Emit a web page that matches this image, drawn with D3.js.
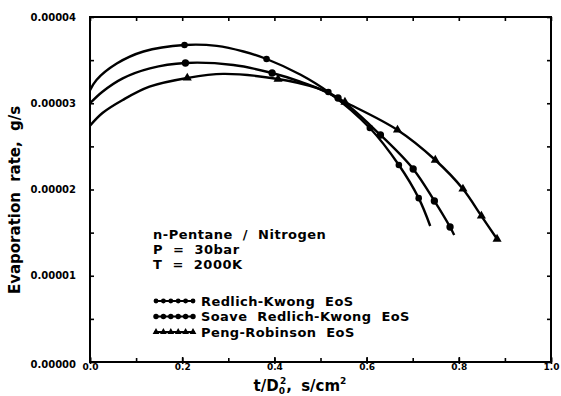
<!DOCTYPE html>
<html><head><meta charset="utf-8">
<script src="https://cdn.jsdelivr.net/npm/d3@7"></script>
<style>body{margin:0;background:#fff}svg{display:block}text{font-family:"DejaVu Sans",sans-serif;font-weight:bold;fill:#000}</style>
</head><body><svg id="c" width="561" height="396"></svg>
<script>
// Curve traces (x = t/D0^2 in s/cm^2, y = evaporation rate in g/s)
const rkX  = [0, 0.014, 0.058, 0.116, 0.205, 0.275, 0.333, 0.383, 0.457, 0.517, 0.607, 0.670, 0.713, 0.738];
const rkY  = [3.15e-5, 3.27e-5, 3.46e-5, 3.60e-5, 3.675e-5, 3.665e-5, 3.60e-5, 3.513e-5, 3.33e-5, 3.13e-5, 2.713e-5, 2.284e-5, 1.90e-5, 1.577e-5];
const rkMarkX = [0.205, 0.383, 0.517, 0.607, 0.670, 0.713];
const rkMarkY = [3.675e-5, 3.513e-5, 3.13e-5, 2.713e-5, 2.284e-5, 1.90e-5];

const srkX = [0, 0.027, 0.071, 0.130, 0.207, 0.311, 0.395, 0.456, 0.538, 0.630, 0.701, 0.747, 0.781, 0.790];
const srkY = [3.0e-5, 3.134e-5, 3.289e-5, 3.405e-5, 3.467e-5, 3.443e-5, 3.351e-5, 3.25e-5, 3.061e-5, 2.632e-5, 2.238e-5, 1.867e-5, 1.565e-5, 1.472e-5];
const srkMarkX = [0.207, 0.395, 0.538, 0.630, 0.701, 0.747, 0.781];
const srkMarkY = [3.467e-5, 3.351e-5, 3.061e-5, 2.632e-5, 2.238e-5, 1.867e-5, 1.565e-5];

const prX  = [0, 0.027, 0.071, 0.129, 0.211, 0.289, 0.408, 0.491, 0.553, 0.667, 0.749, 0.809, 0.849, 0.883];
const prY  = [2.74e-5, 2.887e-5, 3.038e-5, 3.192e-5, 3.293e-5, 3.34e-5, 3.281e-5, 3.177e-5, 3.014e-5, 2.69e-5, 2.342e-5, 2.006e-5, 1.693e-5, 1.426e-5];
const prMarkX = [0.211, 0.408, 0.553, 0.667, 0.749, 0.809, 0.849, 0.883];
const prMarkY = [3.293e-5, 3.281e-5, 3.014e-5, 2.69e-5, 2.342e-5, 2.006e-5, 1.693e-5, 1.426e-5];

const xTicks = [0, 0.2, 0.4, 0.6, 0.8, 1.0];
const xTickLabels = ["0.0", "0.2", "0.4", "0.6", "0.8", "1.0"];
const yTicks = [0, 1e-5, 2e-5, 3e-5, 4e-5];
const yTickLabels = ["0.00000", "0.00001", "0.00002", "0.00003", "0.00004"];
const seriesNames = ["Redlich-Kwong EoS", "Soave Redlich-Kwong EoS", "Peng-Robinson EoS"];
const noteLines = ["n-Pentane / Nitrogen", "P = 30bar", "T = 2000K"];

const svg = d3.select("#c");
const L = 90, R = 551, T = 17, B = 362;
const x = d3.scaleLinear().domain([0, 1]).range([L, R]);
const y = d3.scaleLinear().domain([0, 4e-5]).range([B, T]);

// frame
svg.append("rect").attr("x", L).attr("y", T).attr("width", R - L).attr("height", B - T)
  .attr("fill", "none").attr("stroke", "#000").attr("stroke-width", 2);

// ticks (inward) using axes
const minorX = d3.range(0, 1.0001, 0.1);
const minorY = d3.range(0, 4.0001e-5, 0.5e-5);
function inward(g, axis){ g.call(axis); g.select(".domain").remove(); g.selectAll("line").attr("stroke","#000").attr("stroke-width",1.6); g.selectAll("text").remove(); }
svg.append("g").attr("transform", `translate(0,${B})`).call(g => inward(g, d3.axisTop(x).tickValues(minorX).tickSize(4)));
svg.append("g").attr("transform", `translate(0,${T})`).call(g => inward(g, d3.axisBottom(x).tickValues(minorX).tickSize(4)));
svg.append("g").attr("transform", `translate(${L},0)`).call(g => inward(g, d3.axisRight(y).tickValues(minorY).tickSize(4)));
svg.append("g").attr("transform", `translate(${R},0)`).call(g => inward(g, d3.axisLeft(y).tickValues(minorY).tickSize(4)));
svg.append("g").attr("transform", `translate(0,${B+2})`).call(g => inward(g, d3.axisTop(x).tickValues(xTicks).tickSize(7)));

// tick labels
const xl = svg.append("g").attr("transform", `translate(0,${B})`)
  .call(d3.axisBottom(x).tickValues(xTicks).tickFormat((d,i)=>xTickLabels[i]).tickSize(0).tickPadding(2));
xl.select(".domain").remove();
xl.selectAll("text").attr("font-size", 9).attr("font-family", '"DejaVu Sans",sans-serif').attr("font-weight","bold");
const yl = svg.append("g").attr("transform", `translate(${L},0)`)
  .call(d3.axisLeft(y).tickValues(yTicks).tickFormat((d,i)=>yTickLabels[i]).tickSize(0).tickPadding(14));
yl.select(".domain").remove();
yl.selectAll("text").attr("font-size", 10).attr("font-family", '"DejaVu Sans",sans-serif').attr("font-weight","bold");
yl.selectAll("text").filter(d => d === 0).attr("dy", "0.55em");

// axis titles
svg.append("text").attr("transform", `translate(20,200) rotate(-90)`).attr("text-anchor", "middle")
  .attr("font-size", 15).attr("word-spacing", 5).text("Evaporation rate, g/s");
const xt = svg.append("text").attr("x", 300).attr("y", 391).attr("text-anchor", "middle").attr("font-size", 15).attr("word-spacing", 4);
xt.append("tspan").text("t/D");
xt.append("tspan").attr("font-size", 9).attr("dy", 3).text("0");
xt.append("tspan").attr("font-size", 9).attr("dy", -10).attr("dx", -5).text("2");
xt.append("tspan").attr("dy", 7).text(", s/cm");
xt.append("tspan").attr("font-size", 9).attr("dy", -7).text("2");

// curves
const line = d3.line().x(d => x(d[0])).y(d => y(d[1])).curve(d3.curveCatmullRom.alpha(0.5));
const series = [
  {xs: rkX, ys: rkY, mx: rkMarkX, my: rkMarkY, sym: d3.symbolCircle, size: 34},
  {xs: srkX, ys: srkY, mx: srkMarkX, my: srkMarkY, sym: d3.symbolCircle, size: 42},
  {xs: prX, ys: prY, mx: prMarkX, my: prMarkY, sym: d3.symbolTriangle, size: 36}
];
series.forEach(s => {
  svg.append("path").datum(s.xs.map((v,i)=>[v, s.ys[i]])).attr("d", line)
    .attr("fill", "none").attr("stroke", "#000").attr("stroke-width", 2.4);
  svg.selectAll(null).data(s.mx.map((v,i)=>[v, s.my[i]])).enter().append("path")
    .attr("d", d3.symbol().type(s.sym).size(s.size))
    .attr("transform", d => `translate(${x(d[0])},${y(d[1])})`).attr("fill", "#000");
});

// annotation
const note = svg.append("text").attr("font-size", 13).attr("letter-spacing", 0.5).attr("word-spacing", 5);
noteLines.forEach((t,i) => note.append("tspan").attr("x", 153).attr("y", 239 + i*15).text(t));

// legend
series.forEach((s,i) => {
  const ly = 301 + i*15.5;
  svg.append("line").attr("x1", 154).attr("x2", 195).attr("y1", ly).attr("y2", ly).attr("stroke", "#000").attr("stroke-width", 2.2);
  d3.range(6).forEach(k => svg.append("path").attr("d", d3.symbol().type(s.sym).size(s.size*0.55))
    .attr("transform", `translate(${156 + k*7.4},${ly})`).attr("fill", "#000"));
  svg.append("text").attr("x", 201).attr("y", ly + 4.5).attr("font-size", 13).attr("letter-spacing", 0.4).attr("word-spacing", 5).text(seriesNames[i]);
});
</script></body></html>
